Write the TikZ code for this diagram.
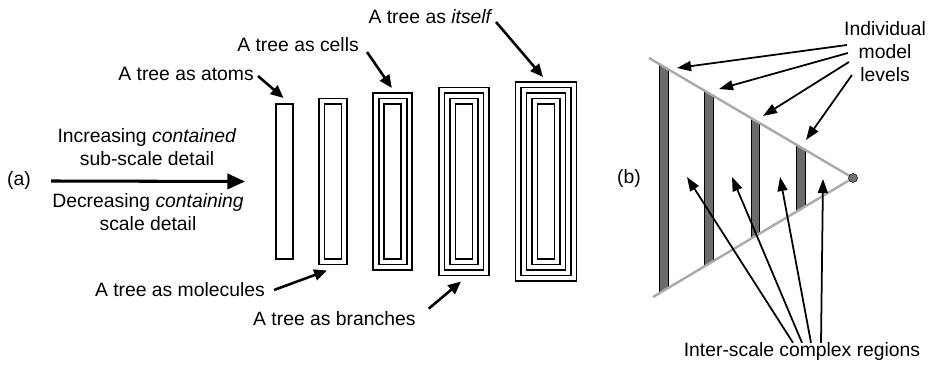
\documentclass[tikz,border=0pt]{standalone}
\usepackage{fontspec}
\setmainfont{Liberation Sans}
\usetikzlibrary{arrows.meta}

\begin{document}
\begin{tikzpicture}[x=0.3mm,y=-0.3mm,
    font=\fontsize{16.5}{19.6}\selectfont,
    layer/.style={draw=black,line width=1.6pt,inner sep=0pt,outer sep=0pt},
    txt/.style={inner sep=0pt,align=center},
    pointer/.style={line width=2.2pt,-{Triangle[length=11pt,width=9.5pt]}},
    thin pointer/.style={line width=1.5pt,-{Triangle[length=12pt,width=8.5pt]}},
    edge line/.style={draw=black!33,line width=2.1pt,line join=round},
    level/.style={fill=black!58,draw=black,line width=0.5pt}]
  \useasboundingbox (0,0) rectangle (933,369);

  % (a) one more shell for every coarser scale
  \foreach \cx/\n [count=\i] in {284.5/1,333/2,392.8/3,464/4,546/5} {
    \foreach \k in {1,...,\n}
      \node[layer,minimum width={(17+11*(\k-1))*0.3mm},
        minimum height={(155+11*(\k-1))*0.3mm}] (tree\i-\k) at (\cx,181.5) {};
  }

  \node[txt] (a) at (19,180) {(a)};
  \node[txt] (more) at (147,147) {Increasing \textit{contained}\\sub-scale detail};
  \node[txt] (less) at (148,212) {Decreasing \textit{containing}\\scale detail};
  \draw[line width=2.6pt,-{Triangle[length=15pt,width=13pt]}]
    ([shift={(20,1)}]a.east) -- ([shift={(-31,0)}]tree1-1.west);

  \node[txt,anchor=east] (atoms) at (254,74) {A tree as atoms};
  \node[txt,anchor=east] (cells) at (359,45) {A tree as cells};
  \node[txt,anchor=east] (itself) at (493,17) {A tree as \textit{itself}};
  \node[txt,anchor=east] (molecules) at (265,290) {A tree as molecules};
  \node[txt,anchor=west] (branches) at (253,319) {A tree as branches};

  \draw[pointer] ([shift={(4,2)}]atoms.east) -- ([shift={(-1,-6)}]tree1-1.north);
  \draw[pointer] ([shift={(8,7)}]cells.east) -- ([shift={(-1,-5)}]tree3-3.north);
  \draw[pointer] ([shift={(3,5)}]itself.east) -- ([shift={(-3,-5)}]tree5-5.north);
  \draw[pointer] ([shift={(9,0)}]molecules.east) -- ([shift={(-6,6)}]tree2-2.south);
  \draw[pointer] ([shift={(13,-3)}]branches.north east) -- ([shift={(-3,6)}]tree4-4.south);

  % (b) model levels inside the cone
  \coordinate (top) at (649,58);
  \coordinate (apex) at (853,178);
  \coordinate (bottom) at (653,297);
  \begin{scope}
    \clip (top) -- (apex) -- (bottom) -- cycle;
    \foreach \xa/\xb in {659/668,704/713,751/759,796/805}
      \draw[level] (\xa,0) rectangle (\xb,369);
  \end{scope}
  \draw[edge line] (top) -- (apex) -- (bottom);
  \node[circle,fill=black!55,draw=black,line width=0.4pt,inner sep=0pt,
    minimum size=2.7mm] (dot) at (apex) {};

  \node[txt] (b) at (629,178) {(b)};
  \node[txt] (levels) at (885,52) {Individual\\model\\levels};
  \node[txt] (regions) at (802,352) {Inter-scale complex regions};

  \foreach \x/\y [count=\i] in {677/68,719/89,763/116,806/140}
    \coordinate (lev\i) at (\x,\y);
  \foreach \x/\y [count=\i] in {687/177,732/177,780/177,823/179}
    \coordinate (gap\i) at (\x,\y);

  \foreach \dx/\dy [count=\i] in {3/-7,4/1,5/10,8/23}
    \draw[thin pointer] ([shift={(\dx,\dy)}]levels.west) -- (lev\i);
  \foreach \dx [count=\i] in {-9,0,9,19}
    \draw[thin pointer] ([shift={(\dx,0)}]regions.north) -- (gap\i);
\end{tikzpicture}
\end{document}
